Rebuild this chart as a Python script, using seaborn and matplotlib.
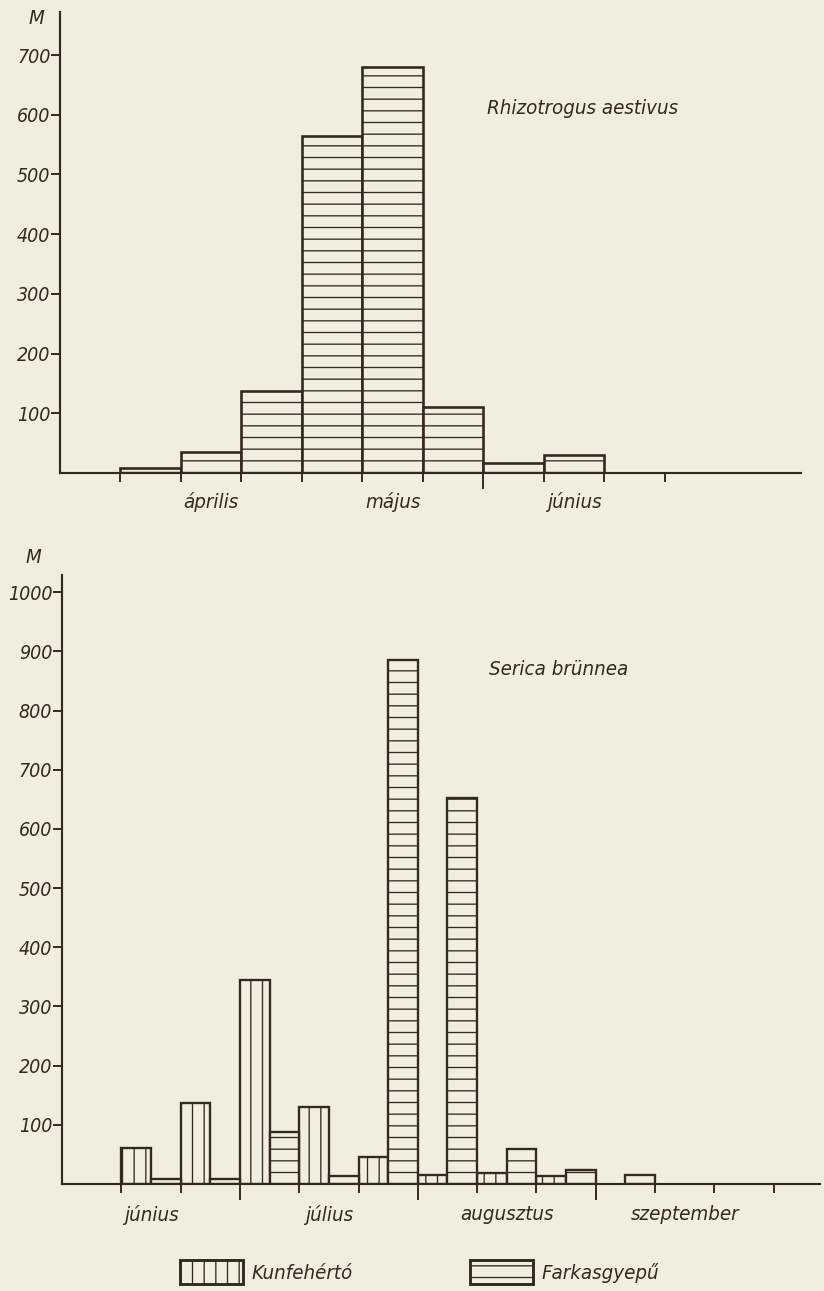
import matplotlib
matplotlib.use("Agg")
import matplotlib.pyplot as plt
import matplotlib.transforms as mtransforms
from matplotlib.patches import Patch
import pandas as pd
import seaborn as sns

# ---- data -------------------------------------------------------------
# Rhizotrogus aestivus, catches per dekad (10-day period)
rhizo_axis_dekads = ["III.3", "IV.1", "IV.2", "IV.3", "V.1", "V.2", "V.3",
                     "VI.1", "VI.2", "VI.3", "VII.1", "VII.2"]
rhizo_dekads = ["IV.1", "IV.2", "IV.3", "V.1", "V.2", "V.3", "VI.1", "VI.2"]
rhizo_counts = [9, 35, 138, 565, 680, 110, 17, 31]
rhizo_months = ["április", "május", "június"]
rhizo_month_dekads = [["IV.1", "IV.2", "IV.3"], ["V.1", "V.2", "V.3"],
                      ["VI.1", "VI.2", "VI.3"]]
rhizo_ticked = ["IV.1", "IV.2", "IV.3", "V.1", "V.2", "V.3", "VI.1", "VI.2",
                "VI.3", "VII.1"]
rhizo_long_ticks = ["VI.1"]
rhizo_yticks = [100, 200, 300, 400, 500, 600, 700]

# Serica brünnea, catches per dekad at two sites
serica_dekads = ["VI.1", "VI.2", "VI.3", "VII.1", "VII.2", "VII.3",
                 "VIII.1", "VIII.2", "VIII.3", "IX.1", "IX.2", "IX.3"]
sites = ["Kunfehértó", "Farkasgyepű"]
kunfeherto = [0, 60, 137, 345, 130, 46, 16, 18, 14, 0, 0, 0]
farkasgyepu = [0, 8, 8, 88, 14, 886, 652, 59, 24, 15, 0, 0]
serica_months = ["június", "július", "augusztus", "szeptember"]
serica_month_dekads = [["VI.1", "VI.2", "VI.3"], ["VII.1", "VII.2", "VII.3"],
                       ["VIII.1", "VIII.2", "VIII.3"], ["IX.1", "IX.2", "IX.3"]]
serica_ticked = serica_dekads[1:] + ["X.1"]
serica_long_ticks = ["VII.1", "VIII.1", "IX.1"]
serica_yticks = [100, 200, 300, 400, 500, 600, 700, 800, 900, 1000]

# ---- style ------------------------------------------------------------
PAPER = "#f2eedd"
INK = "#352820"
DPI = 70

sns.set_theme(style="ticks")
plt.rcParams.update({
    "font.family": ["DejaVu Sans"],
    "font.style": "italic",
    "font.stretch": "condensed",
    "text.color": INK,
    "axes.edgecolor": INK,
    "axes.facecolor": PAPER,
    "figure.facecolor": PAPER,
    "xtick.color": INK,
    "ytick.color": INK,
    "hatch.color": INK,
    "hatch.linewidth": 1.35,
})
FS_TICK = 20
FS_TEXT = 21

fig = plt.figure(figsize=(824 / DPI, 1291 / DPI), dpi=DPI)
ax1 = fig.add_axes([0.0728, 0.6336, 0.8993, 0.3571])
ax2 = fig.add_axes([0.0752, 0.0829, 0.9199, 0.4717])


def dekad_pos(order, d):
    """Left edge of a dekad slot on the categorical axis."""
    return (order.index(d) if d in order else len(order)) - 0.5


def style_axes(ax, order, ticked, long_ticks, month_names, month_dekads,
               yticks, ylim, xmax, label_drop):
    for side in ("top", "right"):
        ax.spines[side].set_visible(False)
    for side in ("left", "bottom"):
        ax.spines[side].set_linewidth(2.2)
        ax.spines[side].set_color(INK)
    ax.set_xlim(-0.5, xmax)
    ax.set_ylim(*ylim)
    ax.set_xlabel("")
    ax.set_ylabel("")
    ax.set_yticks(yticks)
    ax.set_yticklabels([str(v) for v in yticks], fontsize=FS_TICK,
                       style="italic", stretch="condensed")
    ax.tick_params(axis="y", direction="out", length=9, width=2, pad=1)

    # dekad boundaries as ticks, month boundaries drawn longer
    ax.set_xticks([dekad_pos(order, d) for d in ticked
                   if d not in long_ticks])
    ax.set_xticks([dekad_pos(order, d) for d in long_ticks], minor=True)
    ax.set_xticklabels([])
    ax.tick_params(axis="x", which="major", direction="out", length=9,
                   width=2)
    ax.tick_params(axis="x", which="minor", direction="out", length=16,
                   width=2)

    trans = mtransforms.blended_transform_factory(ax.transData, ax.transAxes)
    for name, dks in zip(month_names, month_dekads):
        c = sum(order.index(d) for d in dks) / len(dks)
        ax.annotate(name, xy=(c, 0), xycoords=trans,
                    xytext=(0, -label_drop * 72 / DPI),
                    textcoords="offset points", ha="center", va="center",
                    fontsize=FS_TEXT, style="italic", stretch="condensed",
                    color=INK)


# ---- upper chart: Rhizotrogus aestivus ---------------------------------
top_df = pd.DataFrame({"dekad": rhizo_dekads, "n": rhizo_counts})
sns.barplot(data=top_df, x="dekad", y="n", order=rhizo_axis_dekads,
            width=1, color=PAPER, saturation=1, edgecolor=INK,
            linewidth=2.7, hatch="-", errorbar=None, ax=ax1)
style_axes(ax1, rhizo_axis_dekads, rhizo_ticked, rhizo_long_ticks,
           rhizo_months, rhizo_month_dekads, rhizo_yticks, (0, 772), 11.75,
           29)
ax1.text(6.56, 610, "Rhizotrogus aestivus", fontsize=FS_TEXT, style="italic",
         stretch="condensed", ha="left", va="center", color=INK)
fig.text(36 / 824, 1 - 19 / 1291, "M", fontsize=FS_TEXT, style="italic",
         ha="center", va="center", color=INK)

# ---- lower chart: Serica brünnea ---------------------------------------
rows = []
for d, k, f in zip(serica_dekads, kunfeherto, farkasgyepu):
    rows.append({"dekad": d, "site": sites[0], "n": k})
    rows.append({"dekad": d, "site": sites[1], "n": f})
bot_df = pd.DataFrame(rows)
bot_df = bot_df[bot_df["n"] > 0]

sns.barplot(data=bot_df, x="dekad", y="n", hue="site", order=serica_dekads,
            hue_order=sites, width=1, dodge=True, saturation=1,
            palette=[PAPER, PAPER], edgecolor=INK, linewidth=2.4,
            errorbar=None, legend=False, ax=ax2)
hatches = {sites[0]: "|", sites[1]: "-"}
for cont, site in zip(ax2.containers, sites):
    for bar in cont:
        bar.set_hatch(hatches[site])
        bar.set_facecolor(PAPER)
        bar.set_edgecolor(INK)

style_axes(ax2, serica_dekads, serica_ticked, serica_long_ticks,
           serica_months, serica_month_dekads, serica_yticks, (0, 1029),
           12.28, 31)
ax2.text(6.70, 870, "Serica brünnea", fontsize=FS_TEXT, style="italic",
         stretch="condensed", ha="left", va="center", color=INK)
fig.text(33 / 824, 1 - 557 / 1291, "M", fontsize=FS_TEXT, style="italic",
         ha="center", va="center", color=INK)

handles = [Patch(facecolor=PAPER, edgecolor=INK, linewidth=3, hatch=hatches[s])
           for s in sites]
fig.legend(handles, sites, loc="center", bbox_to_anchor=(0.509, 0.0147),
           ncol=2, frameon=False, handlelength=3.1, handleheight=1.45,
           handletextpad=0.4, columnspacing=5.75,
           prop={"style": "italic", "stretch": "condensed", "size": FS_TEXT})

fig.savefig("out.png", dpi=DPI, facecolor=PAPER)
